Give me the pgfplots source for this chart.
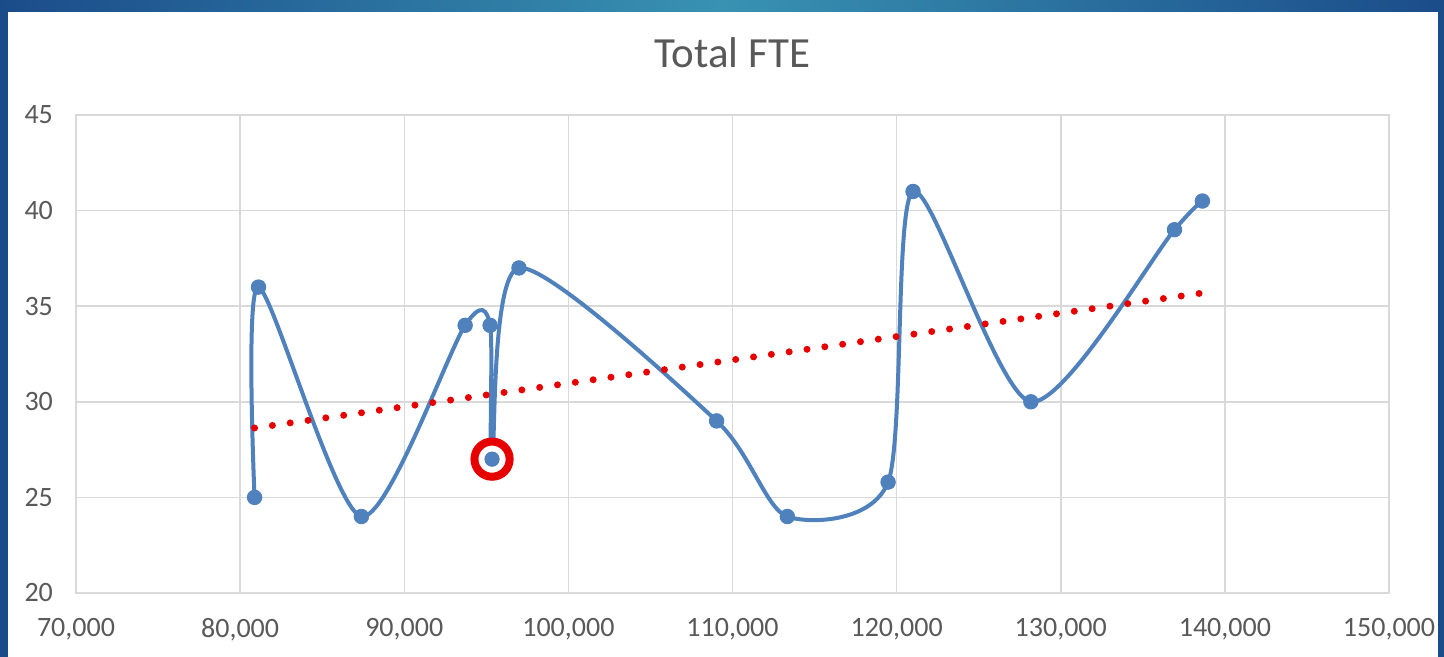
\documentclass[border=0pt]{standalone}
\usepackage{fontspec}
\setmainfont{Carlito}
\usepackage{pgfplots}
\pgfplotsset{compat=1.18}
\definecolor{serblue}{RGB}{79,129,189}
\definecolor{txtgray}{RGB}{89,89,89}
\definecolor{gridgray}{RGB}{217,217,217}
\definecolor{axgray}{RGB}{191,191,191}
\definecolor{frameblue}{RGB}{27,76,138}
\definecolor{frameteal}{RGB}{56,146,178}
\definecolor{trendred}{RGB}{230,0,0}
\begin{document}
\begin{tikzpicture}
\useasboundingbox (0,0) rectangle (722pt,328.5pt);
\fill[frameblue] (0,0) rectangle (722pt,328.5pt);
\shade[left color=frameblue, right color=frameblue, middle color=frameteal] (0,322.5pt) rectangle (722pt,328.5pt);
\fill[white] (4pt,0) rectangle (719pt,322.5pt);
\begin{axis}[
  at={(38pt,32pt)}, anchor=south west,
  scale only axis, width=656.5pt, height=239pt,
  xmin=70000, xmax=150000, ymin=20, ymax=45,
  xtick={70000,80000,...,150000}, ytick={20,25,...,45},
  scaled x ticks=false,
  /pgf/number format/.cd, fixed, precision=0, 1000 sep={,}, assume math mode=true,
  /pgfplots/.cd,
  major tick length=0pt,
  grid=major, grid style={gridgray, line width=0.75pt},
  axis line style={gridgray, line width=0.75pt},
  tick label style={font=\fontsize{14}{16}\selectfont, text=txtgray},
  xticklabel style={yshift=-9pt},
  yticklabel style={xshift=-8pt},
  title={Total FTE},
  title style={font=\fontsize{21.5}{24}\selectfont, text=txtgray, at={(0.5,1)}, anchor=center, yshift=25pt},
  clip=false,
]
\addplot[serblue, line width=2pt, smooth, tension=0.45, mark=*, mark size=3.6pt,
  mark options={fill=serblue, draw=serblue, line width=0.5pt}] coordinates {
  (80880,25) (81120,36) (87390,24) (93710,34) (95230,34) (95350,27) (96990,37)
  (109030,29) (113340,24) (119480,25.8) (121000,41) (128180,30) (136930,39) (138630,40.5)
};
\addplot[trendred, line width=3.5pt, line cap=round, dash pattern=on 0pt off 9pt] coordinates {
  (80880,28.63) (138630,35.69)
};
\addplot[only marks, mark=*, mark size=8.8pt, mark options={draw=trendred, fill=white, line width=4pt}] coordinates {(95350,27)};
\addplot[only marks, mark=*, mark size=3.6pt, serblue] coordinates {(95350,27)};
\end{axis}
\end{tikzpicture}
\end{document}
